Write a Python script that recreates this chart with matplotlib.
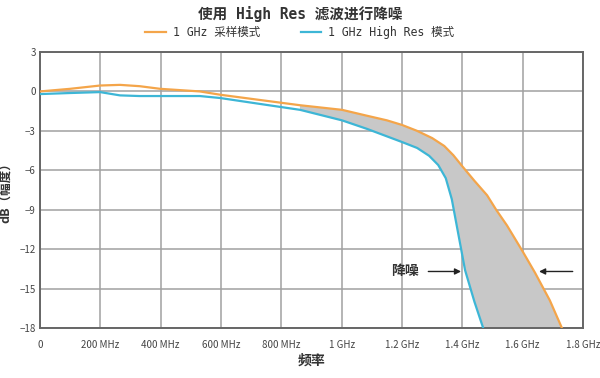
import numpy as np
import matplotlib.pyplot as plt

plt.rcParams['font.family'] = ['Noto Sans CJK SC', 'DejaVu Sans']

# frequency in MHz, level in dB
f_sample = [0, 100, 199, 265, 330, 398, 530, 597, 729, 862, 1001, 1084, 1150, 1200, 1250, 1300,
            1340, 1370, 1400, 1440, 1482, 1512, 1548, 1598, 1641, 1690, 1730]
db_sample = [0.0, 0.2, 0.45, 0.5, 0.4, 0.2, 0.0, -0.25, -0.65, -1.05, -1.4, -1.85, -2.2, -2.55, -3.0, -3.55,
             -4.15, -4.85, -5.7, -6.8, -7.9, -9.0, -10.2, -12.1, -13.8, -15.9, -18.0]

f_hires = [0, 100, 199, 265, 330, 398, 530, 597, 729, 862, 1001, 1084, 1200, 1250,
           1290, 1320, 1345, 1365, 1387, 1409, 1440, 1469]
db_hires = [-0.2, -0.12, -0.05, -0.3, -0.35, -0.35, -0.35, -0.5, -0.95, -1.4, -2.2, -2.85, -3.85, -4.3,
            -4.9, -5.6, -6.6, -8.2, -10.9, -13.6, -16.0, -18.0]

xticks = [0, 200, 400, 600, 800, 1000, 1200, 1400, 1600, 1800]
xlabels = ['0', '200 MHz', '400 MHz', '600 MHz', '800 MHz', '1 GHz', '1.2 GHz', '1.4 GHz', '1.6 GHz', '1.8 GHz']
yticks = [3, 0, -3, -6, -9, -12, -15, -18]

orange = '#F4A54A'
blue = '#3DB6D6'
mono = ['DejaVu Sans Mono', 'Noto Sans CJK SC']

fig = plt.figure(figsize=(6, 3.78), dpi=100)
ax = fig.add_axes([0.0667, 0.1323, 0.905, 0.7301])

# shaded difference between the two modes
fg = np.linspace(860, 1800, 500)
top = np.interp(fg, f_sample, db_sample)
bot = np.interp(fg, f_hires, db_hires)
ax.fill_between(fg, bot, top, color='#C8C8C8', lw=0, zorder=1)

ax.plot(f_sample, db_sample, color=orange, lw=1.6, zorder=3, label='1 GHz 采样模式')
ax.plot(f_hires, db_hires, color=blue, lw=1.6, zorder=3, label='1 GHz High Res 模式')

ax.set_xlim(0, 1800)
ax.set_ylim(-18, 3)
ax.set_xticks(xticks)
ax.set_xticklabels(xlabels)
ax.set_yticks(yticks)
ax.tick_params(length=0, labelsize=7, colors='#444444')
ax.tick_params(axis='x', pad=9)
ax.tick_params(axis='y', pad=3)
ax.grid(True, color='#A0A0A0', lw=1.1, zorder=0)
ax.set_axisbelow(True)
for s in ax.spines.values():
    s.set_color('#666666')
    s.set_linewidth(1.4)

ax.set_xlabel('频率', fontsize=10, fontweight='bold', color='#333333', labelpad=2)
ax.set_ylabel('dB（幅度）', fontsize=9, fontweight='bold', color='#333333')
ax.yaxis.set_label_coords(-0.052, 0.5)

# annotation
ax.text(1255, -13.7, '降噪', fontsize=10, fontweight='bold', color='#333333',
        ha='right', va='center', zorder=5)
ax.annotate('', xy=(1405, -13.7), xytext=(1278, -13.7),
            arrowprops=dict(arrowstyle='-|>', color='#222222', lw=1, mutation_scale=9), zorder=5)
ax.annotate('', xy=(1645, -13.7), xytext=(1775, -13.7),
            arrowprops=dict(arrowstyle='-|>', color='#222222', lw=1, mutation_scale=9), zorder=5)

fig.suptitle('使用 High Res 滤波进行降噪', y=0.985, fontsize=10.5, fontweight='bold',
             color='#333333', family=mono)
fig.legend(loc='upper center', bbox_to_anchor=(0.5, 0.958), ncol=2, frameon=False,
           prop={'family': mono, 'size': 8.3}, handlelength=1.8, columnspacing=3.5,
           handletextpad=0.6, labelcolor='#333333')

fig.savefig('out.png', dpi=100)
